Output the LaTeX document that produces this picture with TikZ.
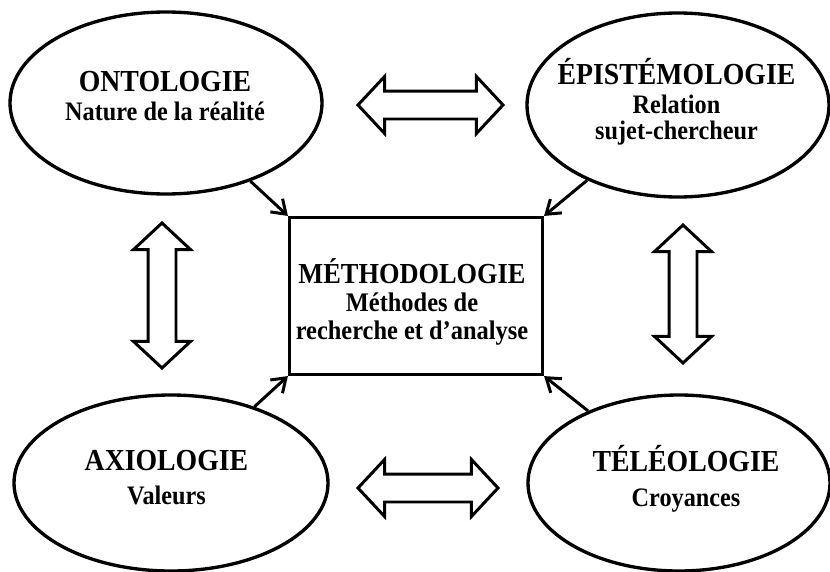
\documentclass[tikz,border=0pt]{standalone}
\usepackage{fontspec}
\setmainfont{Liberation Serif}
\usepackage{tikz}
\usetikzlibrary{arrows.meta,shapes.geometric,shapes.arrows}
\tikzstyle{bulle} = [draw,ellipse,line width=1.9pt,inner sep=0pt]
\tikzstyle{texte} = [align=center,yscale=1.1,transform shape,font=\bfseries\fontsize{13.8}{15}\selectfont]
\tikzstyle{fleche} = [-{Straight Barb[length=0.26cm,width=0.36cm]},line width=1.7pt]
\tikzstyle{lien} = [draw,double arrow,line width=1.7pt,inner xsep=0pt,inner ysep=0.25cm,
	double arrow head extend=0.29cm,double arrow tip angle=94]
\newcommand{\titre}[1]{{\fontsize{15.8}{15}\selectfont #1}}

\begin{document}
\begin{tikzpicture}
	\useasboundingbox (0,0) rectangle (16.6,11.42);

	\node[bulle,minimum width=6.24cm,minimum height=3.64cm] (onto) at (3.32,9.36) {};
	\node[texte] (ontoT) at (3.3,9.49) {\titre{ONTOLOGIE}\\ Nature de la réalité};

	\node[bulle,minimum width=6.04cm,minimum height=3.68cm] (epis) at (13.56,9.32) {};
	\node[texte,font=\bfseries\fontsize{13.8}{13.6}\selectfont] (episT) at (13.53,9.39)
		{\titre{ÉPISTÉMOLOGIE}\\[1.5pt] Relation\\ sujet-chercheur};

	\node[bulle,minimum width=6.28cm,minimum height=3.52cm] (axio) at (3.42,1.76) {};
	\node[texte] (axioT) at (3.33,1.87) {\titre{AXIOLOGIE}\\[3pt] Valeurs};

	\node[bulle,minimum width=6.04cm,minimum height=3.52cm] (tele) at (13.58,1.76) {};
	\node[texte] (teleT) at (13.72,1.84) {\titre{TÉLÉOLOGIE}\\[3pt] Croyances};

	\node[draw,line width=1.8pt,minimum width=5.06cm,minimum height=3.14cm] (meth) at (8.32,5.5) {};
	\node[texte,font=\bfseries\fontsize{13.9}{14.5}\selectfont] (methT) at (8.24,5.39)
		{{\fontsize{15}{14.5}\selectfont MÉTHODOLOGIE}\\ Méthodes de\\ recherche et d’analyse};

	\draw[fleche] (onto) -- (meth.north west);
	\draw[fleche] (epis) -- (meth.north east);
	\draw[fleche] (axio) -- (meth.south west);
	\draw[fleche] (tele) -- (meth.south east);

	\node[lien,minimum height=2.9cm] (haut) at (8.61,9.32) {};
	\node[lien,minimum height=2.8cm] (bas) at (8.56,1.66) {};
	\node[lien,minimum height=2.9cm,rotate=90] (gauche) at (3.24,5.51) {};
	\node[lien,minimum height=2.76cm,rotate=90] (droite) at (13.66,5.54) {};
\end{tikzpicture}
\end{document}
